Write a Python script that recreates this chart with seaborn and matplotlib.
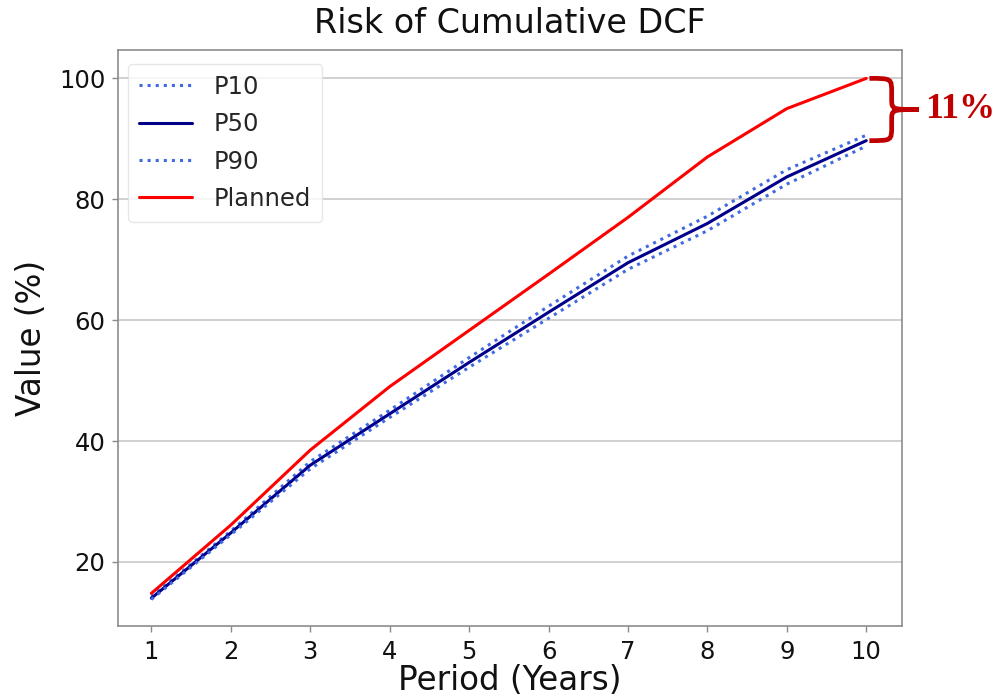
import matplotlib
matplotlib.use("Agg")
import matplotlib.pyplot as plt
from matplotlib.path import Path
from matplotlib.patches import PathPatch
import seaborn as sns
import pandas as pd

# Cumulative discounted cash flow by year (% of planned total)
periods = [1, 2, 3, 4, 5, 6, 7, 8, 9, 10]
p10 = [14.2, 25.1, 36.6, 45.1, 53.8, 62.3, 70.6, 77.2, 84.9, 90.6]
p50 = [14.0, 24.8, 36.0, 44.5, 53.0, 61.3, 69.5, 76.0, 83.7, 89.7]
p90 = [13.8, 24.5, 35.4, 43.9, 52.2, 60.3, 68.4, 74.8, 82.5, 88.8]
planned = [14.8, 26.1, 38.5, 49.0, 58.3, 67.6, 77.0, 87.0, 95.0, 100.0]
gap_label = "11%"

sns.set_theme(style="whitegrid")
plt.rcParams["font.family"] = ["DejaVu Sans"]

df = pd.DataFrame({"Period": periods, "P10": p10, "P50": p50,
                   "P90": p90, "Planned": planned})

fig = plt.figure(figsize=(10.05, 7.0), dpi=100)
ax = fig.add_axes([0.1174, 0.1057, 0.7801, 0.8229])

series_style = [
    ("P10", "#4169e1", ":", 2.2),
    ("P50", "#00008b", "-", 2.2),
    ("P90", "#4169e1", ":", 2.2),
    ("Planned", "#ff0000", "-", 2.2),
]
for name, color, ls, lw in series_style:
    sns.lineplot(data=df, x="Period", y=name, ax=ax, color=color,
                 linestyle=ls, linewidth=lw, label=name)

ax.set_xticks(periods)
ax.set_yticks([20, 40, 60, 80, 100])
ax.set_xlim(0.58, 10.45)
ax.set_ylim(9.4, 104.7)
ax.grid(axis="x", visible=False)
ax.grid(axis="y", color="#c8c8c8", linewidth=1.2)
for sp in ax.spines.values():
    sp.set_color("#8c8c8c")
    sp.set_linewidth(1.2)
ax.tick_params(axis="both", which="major", labelsize=17.5, length=4,
               width=1, color="#8c8c8c", bottom=True, left=True,
               labelcolor="#111111")
ax.tick_params(axis="x", pad=6)
ax.tick_params(axis="y", pad=5)

ax.set_title("Risk of Cumulative DCF", fontsize=24, pad=12, color="#111111")
ax.set_xlabel("Period (Years)", fontsize=23.5, color="#111111", labelpad=0)
ax.set_ylabel("Value (%)", fontsize=23.5, color="#111111", labelpad=8)

leg = ax.legend(loc="upper left", fontsize=17.5, frameon=True,
                borderpad=0.45, labelspacing=0.55, handlelength=2.2,
                handletextpad=0.9, bbox_to_anchor=(-0.003, 0.997))
leg.get_frame().set_edgecolor("#e2e2e2")
leg.get_frame().set_linewidth(1.0)

# Curly brace marking the gap between plan and P50 in the final year
ytop, ybot = planned[-1], p50[-1]
ymid = (ytop + ybot) / 2
x0, xm, xt = 10.04, 10.32, 10.66
verts = [
    (x0, ytop),
    (xm, ytop), (xm, ytop), (xm, ytop - 2.4),
    (xm, ymid + 1.8),
    (xm, ymid), (xm, ymid), (xt, ymid),
    (xm, ymid), (xm, ymid), (xm, ymid - 1.8),
    (xm, ybot + 2.4),
    (xm, ybot), (xm, ybot), (x0, ybot),
]
codes = [Path.MOVETO,
         Path.CURVE4, Path.CURVE4, Path.CURVE4,
         Path.LINETO,
         Path.CURVE4, Path.CURVE4, Path.CURVE4,
         Path.CURVE4, Path.CURVE4, Path.CURVE4,
         Path.LINETO,
         Path.CURVE4, Path.CURVE4, Path.CURVE4]
brace = PathPatch(Path(verts, codes), facecolor="none", edgecolor="#c00000",
                  linewidth=3.4, capstyle="butt", joinstyle="miter",
                  clip_on=False, zorder=5)
ax.add_patch(brace)
ax.text(10.74, ymid, gap_label, color="#c00000", fontsize=26,
        fontweight="bold", family=["Liberation Serif", "DejaVu Serif"],
        va="center", ha="left", clip_on=False)

fig.savefig("out.png", dpi=100)
